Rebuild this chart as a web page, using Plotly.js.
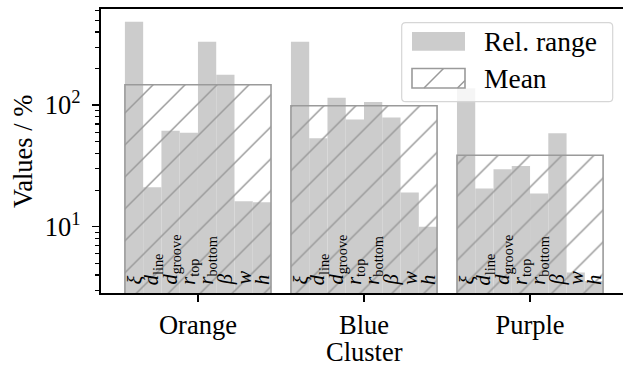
<!DOCTYPE html>
<html><head><meta charset="utf-8">
<script src="https://cdn.plot.ly/plotly-3.0.1.min.js"></script>
<style>html,body{margin:0;padding:0;overflow:hidden;background:#fff}#chart{width:640px;height:367px}</style>
</head><body><div id="chart"></div>
<script>
// ---- data ----
const clusters = ['Orange', 'Blue', 'Purple'];
const params = ['<i>ξ</i>', '<i>d</i><sub>line</sub>', '<i>d</i><sub>groove</sub>', '<i>r</i><sub>top</sub>',
                '<i>r</i><sub>bottom</sub>', '<i>β</i>', '<i>w</i>', '<i>h</i>'];
const relRangeOrange = [485, 21.1, 61.4, 59.2, 332, 178, 16.2, 15.9];
const relRangeBlue   = [332, 53.5, 115, 76.1, 106, 79, 19.1, 10.0];
const relRangePurple = [138, 20.6, 29.7, 31.6, 18.7, 58.8, 4.2, 3.57];
const meanValues = [147, 98.7, 38.7];
const legendLabels = ['Rel. range', 'Mean'];
const xTitle = 'Cluster', yTitle = 'Values / %';
const yTickVals = [10, 100];
const yTickText = ['10<sup>1</sup>', '10<sup>2</sup>'];

// ---- layout constants ----
const W = 640, H = 367, ML = 101, MR = 13, MT = 9, MB = 74;
const PW = W - ML - MR, PH = H - MT - MB;
const BW = 0.11;
const FONT = 'Liberation Serif';
const FS = 26.5;
const GRAY = '#cccccc', EDGE = '#9a9a9a';
const px = x => (x - ML) / PW;
const py = y => (H - MB - y) / PH;

const series = [relRangeOrange, relRangeBlue, relRangePurple];
const bx = [], by = [], annotations = [];
series.forEach((vals, i) => {
  vals.forEach((v, j) => {
    const x = i + (j - (vals.length - 1) / 2) * BW;
    bx.push(x); by.push(v);
    annotations.push({
      x: x, xref: 'x', y: 0, yref: 'paper', text: params[j], textangle: -90,
      xanchor: 'center', yanchor: 'bottom', showarrow: false, yshift: 6,
      font: {family: FONT, size: 20.5, color: '#000'}
    });
  });
});

const relTrace = {
  type: 'bar', x: bx, y: by, width: BW, name: legendLabels[0], showlegend: false,
  marker: {color: GRAY, line: {width: 0}}, hoverinfo: 'skip'
};
const meanTrace = {
  type: 'bar', x: clusters.map((c, i) => i), y: meanValues, width: BW * params.length,
  name: legendLabels[1], showlegend: false, hoverinfo: 'skip',
  marker: {color: 'rgba(0,0,0,0)', line: {color: EDGE, width: 1.6},
           pattern: {shape: '/', size: 22.6, solidity: 0.066, fgcolor: EDGE, bgcolor: 'rgba(0,0,0,0)'}}
};

// manual legend
const lx0 = px(401.7), lx1 = px(612.7), ly0 = py(101.7), ly1 = py(22.7);
const rx = 4 / PW, ry = 4 / PH;
const legendPath = `M${lx0 + rx},${ly1} L${lx1 - rx},${ly1} Q${lx1},${ly1} ${lx1},${ly1 - ry} L${lx1},${ly0 + ry} Q${lx1},${ly0} ${lx1 - rx},${ly0} L${lx0 + rx},${ly0} Q${lx0},${ly0} ${lx0},${ly0 + ry} L${lx0},${ly1 - ry} Q${lx0},${ly1} ${lx0 + rx},${ly1} Z`;
const shapes = [
  {type: 'path', xref: 'paper', yref: 'paper', path: legendPath, layer: 'above',
   fillcolor: 'rgba(255,255,255,0.8)', line: {color: '#d6d6d6', width: 1.2}},
  {type: 'rect', xref: 'paper', yref: 'paper', x0: px(412), x1: px(465), y0: py(50.7), y1: py(32),
   layer: 'above', fillcolor: GRAY, line: {width: 0}},
  {type: 'rect', xref: 'paper', yref: 'paper', x0: px(412), x1: px(465), y0: py(88), y1: py(68.5),
   layer: 'above', fillcolor: 'rgba(0,0,0,0)', line: {color: EDGE, width: 1.6}},
  {type: 'path', xref: 'paper', yref: 'paper', layer: 'above', line: {color: EDGE, width: 1.5},
   path: `M${px(424)},${py(88)} L${px(443.5)},${py(68.5)} M${px(457.5)},${py(88)} L${px(465)},${py(80.5)}`}
];
legendLabels.forEach((t, k) => {
  annotations.push({x: px(482), y: py(k === 0 ? 41.5 : 78.5), xref: 'paper', yref: 'paper', text: t,
    showarrow: false, xanchor: 'left', yanchor: 'middle', font: {family: FONT, size: 27.5, color: '#000'}});
});
// axis titles as positioned text
annotations.push({x: 0.5, y: py(352.5), xref: 'paper', yref: 'paper', text: xTitle, showarrow: false,
  xanchor: 'center', yanchor: 'middle', font: {family: FONT, size: FS, color: '#000'}});
annotations.push({x: px(23), y: py(152), xref: 'paper', yref: 'paper', text: yTitle, showarrow: false,
  textangle: -90, xanchor: 'center', yanchor: 'middle', font: {family: FONT, size: FS, color: '#000'}});

const minorVals = [];
[1, 10, 100].forEach(d => { for (let k = 2; k <= 9; k++) minorVals.push(k * d); });

const layout = {
  width: W, height: H, margin: {l: ML, r: MR, t: MT, b: MB}, autosize: false,
  paper_bgcolor: '#fff', plot_bgcolor: '#fff', barmode: 'overlay', showlegend: false,
  font: {family: FONT, size: FS, color: '#000'},
  xaxis: {range: [-0.584, 2.584], tickvals: clusters.map((c, i) => i), ticktext: clusters,
    showline: true, mirror: true, linecolor: '#000', linewidth: 1.6, ticks: 'outside', ticklen: 7.5,
    tickwidth: 1.4, tickcolor: '#000', showgrid: false, zeroline: false, automargin: false,
    tickfont: {family: FONT, size: FS}},
  yaxis: {type: 'log', range: [0.454, 2.791], tickvals: yTickVals, ticktext: yTickText,
    showline: true, mirror: true, linecolor: '#000', linewidth: 1.6, ticks: 'outside', ticklen: 7.5,
    tickwidth: 1.4, tickcolor: '#000', showgrid: false, zeroline: false, automargin: false,
    tickfont: {family: FONT, size: FS}, ticklabelstandoff: 6,
    minor: {tickvals: minorVals, ticks: 'outside', ticklen: 4.5, tickwidth: 1.1, tickcolor: '#000', showgrid: false}},
  shapes: shapes, annotations: annotations
};
Plotly.newPlot('chart', [relTrace, meanTrace], layout, {staticPlot: true, displayModeBar: false});
</script></body></html>
